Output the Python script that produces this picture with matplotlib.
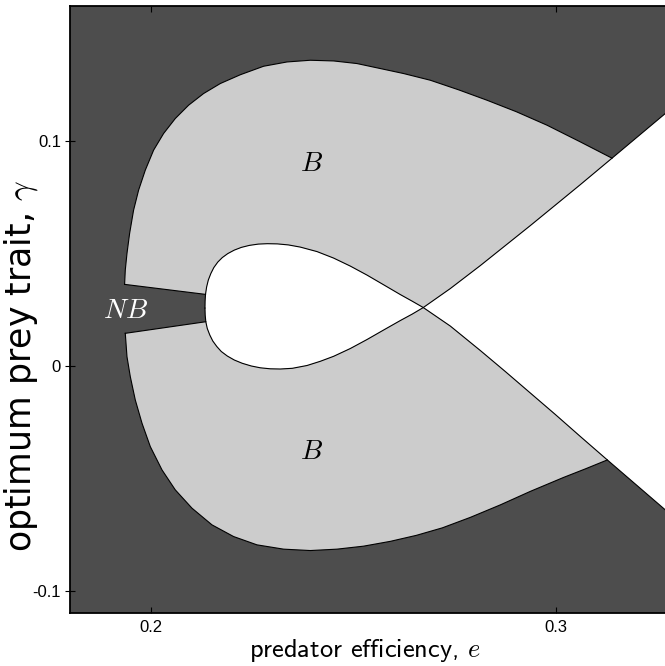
import numpy as np
import matplotlib
matplotlib.use("Agg")
import matplotlib.pyplot as plt

plt.rcParams['mathtext.fontset'] = 'cm'

DARK = '#4d4d4d'
LIGHT = '#cccccc'

# outer boundary of upper B region (from NB notch corner to the right junction)
o1_e = [0.19348, 0.19365, 0.19407, 0.19472, 0.1957, 0.19694, 0.19859, 0.20064,
        0.20311, 0.206, 0.20928, 0.21299, 0.21711, 0.22205, 0.2278, 0.23358,
        0.23933, 0.24509, 0.25086, 0.25662, 0.26237, 0.26896, 0.27588, 0.28296,
        0.2902, 0.29778, 0.306, 0.31383]
o1_g = [0.03618, 0.04253, 0.04996, 0.05884, 0.0692, 0.07809, 0.08698, 0.09587,
        0.10329, 0.10996, 0.11587, 0.12107, 0.12551, 0.12942, 0.1332, 0.13511,
        0.13587, 0.13556, 0.1344, 0.13218, 0.12996, 0.12698, 0.12276, 0.11809,
        0.11298, 0.10698, 0.09956, 0.09231]

# outer boundary of lower B region
o2_e = [0.19365, 0.19407, 0.19489, 0.19612, 0.19778, 0.19983, 0.20272, 0.206,
        0.21012, 0.21506, 0.2204, 0.22617, 0.23274, 0.23933, 0.24593, 0.25249,
        0.25909, 0.26551, 0.27193, 0.27884, 0.28625, 0.29365, 0.30188, 0.30723,
        0.31267]
o2_g = [0.0144, 0.004, -0.00489, -0.01524, -0.0256, -0.036, -0.04636, -0.05524,
        -0.06338, -0.0708, -0.076, -0.07969, -0.0816, -0.08222, -0.0816, -0.08027,
        -0.07813, -0.07547, -0.07213, -0.06747, -0.06191, -0.05591, -0.04969,
        -0.04591, -0.04191]

# loop curve, upper branch (tip -> top of loop -> crossing -> lower right)
u_e = [0.21333, 0.21336, 0.21346, 0.21373, 0.21415, 0.21477, 0.21551, 0.21649,
       0.2176, 0.21896, 0.22057, 0.2223, 0.22427, 0.22649, 0.22872, 0.23119,
       0.2339, 0.23686, 0.24099, 0.24509, 0.24921, 0.25333, 0.25743, 0.26156,
       0.26452, 0.26723, 0.2739, 0.28131, 0.28748, 0.29365, 0.29983, 0.306,
       0.31267, 0.32699, 0.33007]
u_g = [0.02564, 0.02876, 0.03173, 0.03498, 0.03809, 0.04098, 0.04364, 0.04609,
       0.04809, 0.04987, 0.05142, 0.05262, 0.05351, 0.05409, 0.05427, 0.05418,
       0.05373, 0.05276, 0.05076, 0.04787, 0.04431, 0.04031, 0.036, 0.03164,
       0.02867, 0.02587, 0.01764, 0.00676, -0.00258, -0.01213, -0.02169,
       -0.03147, -0.04191, -0.06413, -0.06902]

# loop curve, lower branch (tip -> bottom of loop -> crossing -> upper right)
l_e = [0.21333, 0.21338, 0.21353, 0.2139, 0.21452, 0.21526, 0.21625, 0.21736,
       0.21884, 0.22057, 0.22254, 0.22477, 0.22699, 0.22946, 0.23193, 0.23489,
       0.23852, 0.2418, 0.24509, 0.24921, 0.25333, 0.25743, 0.26156, 0.26452,
       0.26723, 0.2739, 0.28131, 0.28748, 0.29365, 0.29983, 0.306, 0.31383,
       0.32699, 0.33007]
l_g = [0.02564, 0.02253, 0.01956, 0.01653, 0.01364, 0.01098, 0.00853, 0.00631,
       0.00431, 0.00253, 0.00107, -0.00013, -0.00093, -0.00138, -0.00147,
       -0.00116, 0.00009, 0.00196, 0.00418, 0.00764, 0.01164, 0.01587, 0.02009,
       0.02298, 0.02587, 0.03431, 0.04453, 0.05342, 0.06231, 0.07142, 0.08053,
       0.09231, 0.11218, 0.11689]

labels = [(0.23958, 0.0901, '$B$', 'k'), (0.23958, -0.0379, '$B$', 'k'),
          (0.19365, 0.025, '$NB$', 'w')]

# where the pieces meet
notch = 2
u_cross = u_e.index(0.26723)
l_cross = l_e.index(0.26723)
u_junc = u_e.index(o2_e[-1])
l_junc = l_e.index(o1_e[-1])

o1 = np.column_stack([o1_e, o1_g])
o2 = np.column_stack([o2_e, o2_g])
U = np.column_stack([u_e, u_g])
L = np.column_stack([l_e, l_g])

fig = plt.figure(figsize=(6.65, 6.66), dpi=100)
ax = fig.add_axes([70/665, 53/666, 607.5/665, 607/666])
ax.set_facecolor(DARK)

# upper B: outer curve, back along L to crossing, back along U to notch
up_poly = np.vstack([o1, L[l_cross:l_junc + 1][::-1], U[notch:u_cross + 1][::-1]])
ax.fill(up_poly[:, 0], up_poly[:, 1], color=LIGHT, lw=0)
lo_poly = np.vstack([o2, U[u_cross:u_junc + 1][::-1], L[notch:l_cross + 1][::-1]])
ax.fill(lo_poly[:, 0], lo_poly[:, 1], color=LIGHT, lw=0)

# white loop and white wedge on the right
loop = np.vstack([U[:u_cross + 1], L[:l_cross + 1][::-1]])
ax.fill(loop[:, 0], loop[:, 1], color='white', lw=0)
wedge = np.vstack([L[l_cross:], U[u_cross:][::-1]])
ax.fill(wedge[:, 0], wedge[:, 1], color='white', lw=0)

lw = 0.8
ax.plot(o1[:, 0], o1[:, 1], 'k', lw=lw)
ax.plot(o2[:, 0], o2[:, 1], 'k', lw=lw)
ax.plot(U[:, 0], U[:, 1], 'k', lw=lw)
ax.plot(L[:, 0], L[:, 1], 'k', lw=lw)
ax.plot([o1_e[0], u_e[notch]], [o1_g[0], u_g[notch]], 'k', lw=lw)
ax.plot([o2_e[0], l_e[notch]], [o2_g[0], l_g[notch]], 'k', lw=lw)

for x, y, s, c in labels:
    ax.text(x, y, s, color=c, fontsize=20, ha='center', va='center')

ax.set_xlim(0.18, 0.33)
ax.set_ylim(-0.11, 0.16)
ax.set_xticks([0.2, 0.3])
ax.set_xticklabels(['0.2', '0.3'])
ax.set_yticks([-0.1, 0, 0.1])
ax.set_yticklabels(['-0.1', '0', '0.1'])
ax.tick_params(axis='x', direction='in', length=4.5, width=0.8, top=True,
               labelsize=12, pad=5)
ax.tick_params(axis='y', direction='inout', length=7, width=0.8, right=False,
               labelsize=12, pad=3)
for lab in ax.get_xticklabels() + ax.get_yticklabels():
    lab.set_family('Liberation Sans')
for sp in ax.spines.values():
    sp.set_linewidth(1.3)

ax.set_xlabel('predator efficiency, $e$', fontsize=19, family='cmss10', va='center')
ax.xaxis.set_label_coords(0.486, -0.0626)
ax.set_ylabel(r'optimum prey trait, $\gamma$', fontsize=25,
              family='DejaVu Sans', va='center')
ax.yaxis.set_label_coords(-0.08, 0.407)

fig.savefig('out.png', dpi=100)
